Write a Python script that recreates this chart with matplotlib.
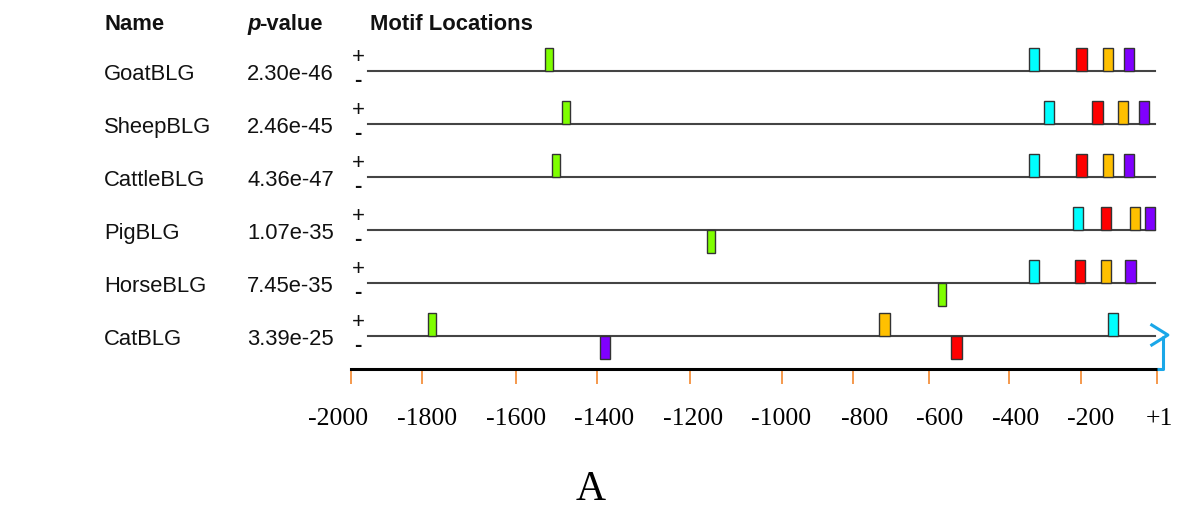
import matplotlib
matplotlib.use("Agg")
import matplotlib.pyplot as plt
from matplotlib.patches import Rectangle

# sequences and their p-values
names = ['GoatBLG', 'SheepBLG', 'CattleBLG', 'PigBLG', 'HorseBLG', 'CatBLG']
pvalues = ['2.30e-46', '2.46e-45', '4.36e-47', '1.07e-35', '7.45e-35', '3.39e-25']

# motif sites: start position (bp) and strand, one array per motif
green_start = [-1518, -1476, -1501, -1116, -543, -1809]
green_strand = ['+', '+', '+', '-', '-', '+']
cyan_start = [-317, -280, -317, -208, -317, -121]
cyan_strand = ['+', '+', '+', '+', '+', '+']
red_start = [-200, -160, -200, -138, -203, -510]
red_strand = ['+', '+', '+', '+', '+', '-']
orange_start = [-133, -96, -133, -66, -138, -689]
orange_strand = ['+', '+', '+', '+', '+', '+']
purple_start = [-81, -44, -81, -29, -78, -1382]
purple_strand = ['+', '+', '+', '+', '+', '-']

seq_start = -1958
seq_end = -4

# bottom axis (ticks and labels are not evenly spaced in the source)
tick_pos = [-2000, -1824, -1590, -1389, -1158, -930, -754, -565, -366, -188, 1]
label_pos = [-2032, -1811, -1590, -1372, -1151, -932, -724, -538, -349, -163, 6]
tick_labels = ['-2000', '-1800', '-1600', '-1400', '-1200', '-1000', '-800', '-600', '-400', '-200', '+1']

W, H = 1178, 510
fig = plt.figure(figsize=(W / 100, H / 100), dpi=100)

sans = 'Liberation Sans'
serif = 'Liberation Serif'
txt = '#111111'
fs = 15.8

# track axes: x in bp, y in rows (row 0 on top, 53 px per row)
row0, rowh = 72, 53
ax_l, ax_r, ax_top, ax_bot = 351, 1157, 19, 370
ax = fig.add_axes([ax_l / W, 1 - ax_bot / H, (ax_r - ax_l) / W, (ax_bot - ax_top) / H])
ax.set_xlim(-2000, 1)
ax.set_ylim((row0 - ax_bot) / rowh, (row0 - ax_top) / rowh)
for s in ['top', 'left', 'right']:
    ax.spines[s].set_visible(False)
ax.spines['bottom'].set_linewidth(2.2)
ax.spines['bottom'].set_color('black')
ax.set_yticks([])
ax.set_xticks(tick_pos)
ax.set_xticklabels([])
ax.tick_params(axis='x', direction='out', length=11, width=1.3, color='#f5913e')

def ypix(p):
    return (row0 - p) / rowh

box_h = 23 / rowh
motifs = [
    (green_start, green_strand, '#7fff00', 20),
    (cyan_start, cyan_strand, '#00ffff', 26),
    (red_start, red_strand, '#ff0000', 26),
    (orange_start, orange_strand, '#ffc000', 26),
    (purple_start, purple_strand, '#8000ff', 26),
]

for i, name in enumerate(names):
    y = -i
    ax.plot([seq_start, seq_end], [y, y], color='#444444', lw=1.5, zorder=1)
    for starts, strands, col, wd in motifs:
        y0 = y if strands[i] == '+' else y - box_h
        ax.add_patch(Rectangle((starts[i], y0), wd, box_h, facecolor=col,
                               edgecolor='#333333', lw=1.0, zorder=3))
    yp = row0 + rowh * i
    fig.text(104 / W, 1 - (yp + 8) / H, name, fontsize=fs, family=sans,
             color=txt, va='baseline', ha='left')
    fig.text(247 / W, 1 - (yp + 8) / H, pvalues[i], fontsize=fs, family=sans,
             color=txt, va='baseline', ha='left')
    fig.text(358 / W, 1 - (yp - 9) / H, '+', fontsize=16, family=sans,
             color=txt, va='baseline', ha='center')
    fig.text(358 / W, 1 - (yp + 14) / H, '-', fontsize=16, family=sans,
             color=txt, va='baseline', ha='center', fontweight='bold')

# headers
fig.text(104 / W, 1 - 30 / H, 'Name', fontsize=fs, family=sans, fontweight='bold',
         color=txt, va='baseline')
fig.text(247 / W, 1 - 30 / H, 'p', fontsize=fs, family=sans, fontweight='bold',
         style='italic', color=txt, va='baseline')
fig.text(259 / W, 1 - 30 / H, '-value', fontsize=fs, family=sans, fontweight='bold',
         color=txt, va='baseline')
fig.text(370 / W, 1 - 30 / H, 'Motif Locations', fontsize=fs, family=sans,
         fontweight='bold', color=txt, va='baseline')

# tick labels
for pos, lab in zip(label_pos, tick_labels):
    ax.text(pos, ypix(425), lab, fontsize=18.5, family=serif, color='black',
            ha='center', va='baseline', clip_on=False)

# blue start-of-transcription arrow
blue = '#1aa7e8'
ax.plot([1, 16, 16], [ypix(370), ypix(370), ypix(337)], color=blue, lw=2.2,
        clip_on=False, solid_capstyle='butt', zorder=4)
ax.plot([-12, 28, -12], [ypix(326), ypix(336), ypix(346)], color=blue, lw=2.2,
        clip_on=False, zorder=4)

fig.text(591 / W, 1 - 490 / H, 'A', fontsize=30, family=serif, color='black',
         ha='center', va='center')

fig.savefig('out.png', dpi=100)
